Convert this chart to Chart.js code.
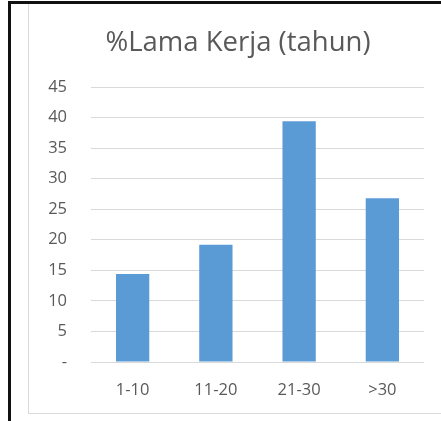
<!DOCTYPE html>
<html lang="id">
<head>
<meta charset="utf-8">
<title>%Lama Kerja (tahun)</title>
<script src="https://cdn.jsdelivr.net/npm/chart.js@4/dist/chart.umd.min.js"></script>
<style>
  html, body { margin: 0; padding: 0; background: #fff; overflow: hidden; }
  body { width: 441px; height: 421px; position: relative; }
  /* bingkai hitam dari dokumen asal */
  .bingkai-atas { position: absolute; left: 8px; top: 1px; right: 0; height: 3px; background: #111; z-index: 2; }
  .bingkai-kiri { position: absolute; left: 8px; top: 1px; bottom: 0; width: 3px; background: #111; z-index: 2; }
  /* kotak grafik abu-abu muda, sisi kanan keluar dari jendela */
  .kotak-grafik { position: absolute; left: 28px; top: 2px; width: 418px; height: 410px; border: 1px solid #d9d9d9; background: #fff; }
</style>
</head>
<body>
<div class="bingkai-atas"></div>
<div class="bingkai-kiri"></div>
<div class="kotak-grafik"><canvas id="grafik"></canvas></div>
<script>
(() => {
  'use strict';

  const JUDUL = '%Lama Kerja (tahun)';
  const KATEGORI = ['1-10', '11-20', '21-30', '>30'];
  const PERSENTASE = [14.4, 19.2, 39.4, 26.8];
  const LABEL_SUMBU_Y = ['-', '5', '10', '15', '20', '25', '30', '35', '40', '45'];

  const ABU_TEKS = '#595959';
  const ABU_GRID = '#d9d9d9';
  const BIRU = '#5b9bd5';
  const FONTE = "'Open Sans', sans-serif";

  Chart.defaults.font.family = FONTE;

  new Chart(document.getElementById('grafik'), {
    type: 'bar',
    data: {
      labels: KATEGORI,
      datasets: [
        {
          data: PERSENTASE,
          backgroundColor: BIRU,
          borderWidth: 0,
          categoryPercentage: 1,
          barPercentage: 0.4,
        },
      ],
    },
    options: {
      responsive: true,
      maintainAspectRatio: false,
      animation: false,
      layout: { padding: 0 },
      plugins: {
        legend: { display: false },
        tooltip: { enabled: false },
        title: {
          display: true,
          text: JUDUL,
          color: ABU_TEKS,
          font: { family: FONTE, size: 27.5, weight: 'normal', lineHeight: 1.2 },
          padding: { top: 24, bottom: 27 },
        },
      },
      scales: {
        x: {
          grid: { display: false },
          border: { display: false },
          ticks: { color: ABU_TEKS, font: { size: 16.5 }, padding: 10, maxRotation: 0 },
          afterFit: (s) => { s.height = 51; },
        },
        y: {
          min: 0,
          max: 45,
          grid: { color: ABU_GRID, drawTicks: false, lineWidth: 1 },
          border: { display: false },
          ticks: {
            stepSize: 5,
            color: ABU_TEKS,
            font: { size: 16.5 },
            padding: 24,
            callback: (v, i) => LABEL_SUMBU_Y[i],
          },
          afterFit: (s) => { s.width = 62; },
        },
        // sumbu kosong di kanan: menyisakan margin tanpa menggeser judul
        kanan: {
          type: 'linear',
          position: 'right',
          grid: { display: false },
          border: { display: false },
          ticks: { display: false },
          afterFit: (s) => { s.width = 23; },
        },
      },
    },
  });
})();
</script>
</body>
</html>
